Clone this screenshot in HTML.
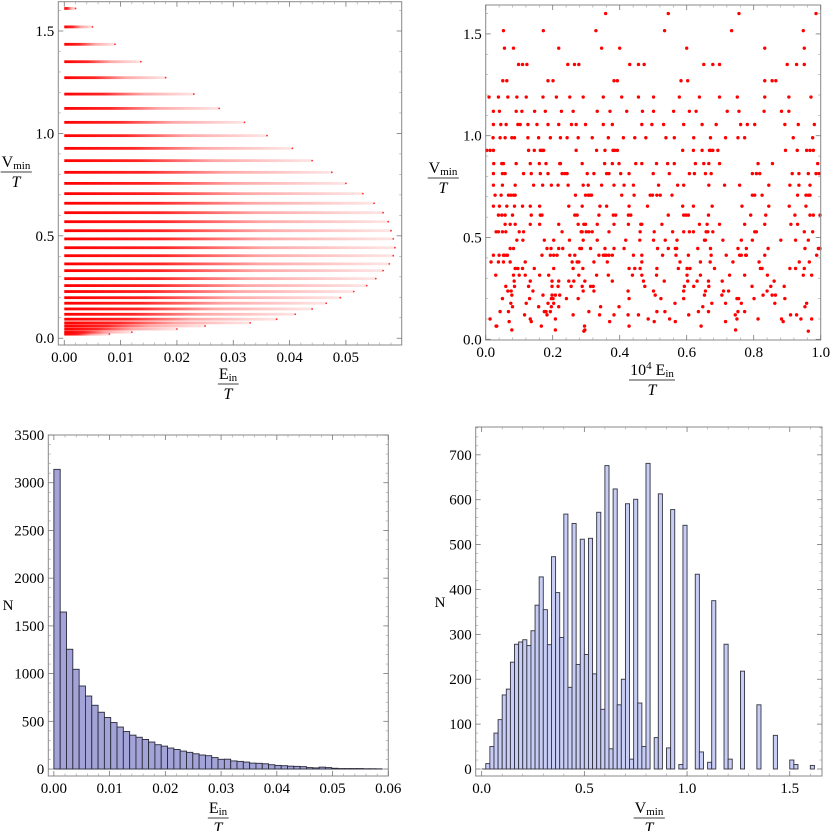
<!DOCTYPE html>
<html><head><meta charset="utf-8"><style>
html,body{margin:0;padding:0;background:#fff;}
svg text{font-family:"Liberation Serif",serif;fill:#000;}
</style></head><body>
<svg id="fig" width="830" height="831" viewBox="0 0 830 831" xmlns="http://www.w3.org/2000/svg">
<defs>
<linearGradient id="fade" x1="0" y1="0" x2="1" y2="0">
<stop offset="0" stop-color="#ff0000" stop-opacity="1"/>
<stop offset="0.3" stop-color="#ff0000" stop-opacity="0.85"/>
<stop offset="0.6" stop-color="#ff0000" stop-opacity="0.35"/>
<stop offset="1" stop-color="#ff0000" stop-opacity="0.1"/>
</linearGradient>
</defs>
<g id="tl"></g>
<g id="tr"></g>
<g id="bl"></g>
<g id="br"></g>
</svg>
<script>
// ---- Top-left: levels of Vmin/T and maximum Ein/T reached on each level
const tlLevels = [1.61,1.52,1.435,1.35,1.272,1.192,1.122,1.054,0.989,0.927,0.867,0.81,0.756,0.706,0.659,0.613,0.569,0.525,0.485,0.442,0.403,0.363,0.330,0.291,0.257,0.228,0.198,0.171,0.143,0.117,0.093,0.075,0.06,0.045,0.03,0.02];
const tlExtent = [0.002,0.005,0.009,0.0136,0.018,0.023,0.0275,0.032,0.036,0.0405,0.044,0.0475,0.050,0.053,0.055,0.0566,0.0575,0.058,0.0584,0.0587,0.0584,0.0577,0.0566,0.0553,0.0537,0.0514,0.049,0.0465,0.044,0.041,0.0377,0.033,0.025,0.02,0.012,0.008];
const tlXTicks = [0,0.01,0.02,0.03,0.04,0.05];
const tlXLabels = ["0.00","0.01","0.02","0.03","0.04","0.05"];
const tlYTicks = [0,0.5,1.0,1.5];
const tlYLabels = ["0.0","0.5","1.0","1.5"];

// ---- Top-right: points per Vmin level, x in thousandths of (10^4 Ein/T)
const trLevels = [1.60,1.516,1.43,1.35,1.27,1.19,1.12,1.055,0.99,0.928,0.863,0.814,0.757,0.708,0.654,0.61,0.565,0.528,0.487,0.446,0.413,0.38,0.348,0.315,0.286,0.26,0.237,0.217,0.2,0.177,0.16,0.136,0.12,0.1,0.087,0.065,0.046,0.04];
const trX = [
[358,545,756,986],
[53,172,329,534,734,948],
[56,83,218,346,400,600,833,951],
[98,110,123,245,265,278,430,456,473,651,678,698,900,928,951],
[51,63,186,201,383,393,583,603,833,855,866],
[10,38,66,93,121,171,211,251,291,351,406,456,501,578,638,698,751,833,905,971],
[23,41,91,108,146,178,226,261,333,371,421,468,501,561,608,628,721,756,831,883,905],
[23,45,61,96,103,126,153,186,218,256,270,298,351,378,466,496,531,591,646,688,761,781,803,893,933,981],
[22,43,58,78,86,126,158,193,223,243,276,318,366,411,445,478,538,563,621,671,716,753,773,918,976],
[3,13,23,128,145,163,168,173,270,331,356,380,385,393,588,620,646,668,671,678,693,895,930,958,968,978],
[24,48,53,91,133,160,180,221,223,288,355,378,398,448,466,510,543,563,626,651,666,698,813,856,991],
[23,50,58,113,136,163,186,228,236,243,303,323,361,368,403,428,500,548,608,623,656,673,796,808,818,915,935,963,986,995],
[23,50,88,143,170,196,216,246,291,306,346,383,413,441,516,573,591,666,713,758,845,908,935,968],
[28,46,68,75,83,88,268,298,306,311,316,406,443,491,498,511,521,556,796,803,825,931,956,963,968],
[23,41,63,86,110,133,161,248,288,341,361,428,483,588,620,676,765,845,906,956],
[38,48,58,80,136,163,168,266,273,338,381,388,426,433,545,591,598,605,665,791,836,923,968,978,998],
[58,73,88,133,161,218,276,293,298,333,383,426,463,466,526,638,661,698,773,833,911,931],
[31,38,50,60,100,113,228,285,288,300,308,318,368,461,503,558,591,608,620,658,663,678,803,808,951,976],
[93,111,175,203,250,291,333,418,460,501,536,571,653,656,708,763,796,881,925,963],
[73,83,183,195,218,230,281,286,313,356,383,413,513,545,566,570,633,671,753,778,843,953,993,998],
[23,40,53,56,63,65,168,193,203,213,251,266,338,351,356,360,368,378,441,466,528,568,605,673,718,758,763,776,778,833,988],
[16,38,53,73,118,258,273,278,323,363,466,580,641,670,738,816,936,966],
[88,96,110,145,203,261,290,428,445,461,511,575,601,610,683,820,825,908,925,951],
[30,83,100,118,161,188,278,331,366,438,466,510,601,641,728,773,841,948,973],
[85,133,198,218,248,263,296,378,471,533,603,631,665,706,861],
[60,86,128,198,216,255,288,313,321,475,593,621,666,795,851,891],
[66,76,141,291,323,425,501,591,656,710,725,840],
[78,171,198,208,221,506,653,705,828,855,865],
[50,131,196,201,241,276,428,523,591,750,755,801,893],
[75,121,186,203,565,675,716,763,863,958],
[80,158,196,218,343,398,648,953],
[43,68,175,180,193,308,511,535,635,665,753,773],
[116,183,261,340,383,425,456,606,745,910,928],
[13,133,208,485,549,750,813,883,941,973],
[70,136,370,503,566,716,888],
[31,33,166,295,428,643],
[78,208,296,746],
[293,963]
];
const trXTicks = [0,0.2,0.4,0.6,0.8,1.0];
const trXLabels = ["0.0","0.2","0.4","0.6","0.8","1.0"];
const trYTicks = [0,0.5,1.0,1.5];
const trYLabels = ["0.0","0.5","1.0","1.5"];

// ---- Bottom-left histogram of Ein/T
const blBinWidth = 0.001133;
const blCounts = [3140,1645,1255,1045,870,765,668,595,540,487,440,393,355,333,310,283,255,240,220,205,188,175,160,147,140,120,102,103,85,80,73,62,60,55,45,38,35,30,28,25,15,12,20,15,8,5,5,5,5,3,3,2];
const blXTicks = [0,0.01,0.02,0.03,0.04,0.05,0.06];
const blXLabels = ["0.00","0.01","0.02","0.03","0.04","0.05","0.06"];
const blYTicks = [0,500,1000,1500,2000,2500,3000,3500];
const blYLabels = ["0","500","1000","1500","2000","2500","3000","3500"];

// ---- Bottom-right histogram of Vmin/T (bins of 0.02 starting at 0)
const brBinWidth = 0.02;
const brCounts = [0,12,50,80,110,165,178,238,278,283,288,275,308,365,428,355,277,473,393,293,568,182,547,233,512,255,514,212,572,133,676,45,624,143,200,591,22,601,147,50,681,0,70,613,0,47,578,0,10,543,0,0,434,38,0,15,375,0,0,278,22,0,0,218,0,0,0,143,0,0,0,75,0,0,0,20,10,0,0,0,8];
const brXTicks = [0,0.5,1.0,1.5];
const brXLabels = ["0.0","0.5","1.0","1.5"];
const brYTicks = [0,100,200,300,400,500,600,700];
const brYLabels = ["0","100","200","300","400","500","600","700"];

const NS = "http://www.w3.org/2000/svg";
function mk(parent, tag, attrs) {
  const e = document.createElementNS(NS, tag);
  for (const k in attrs) e.setAttribute(k, attrs[k]);
  parent.appendChild(e);
  return e;
}
function panel(g, L, R, T, B, x0, x1, y0, y1) {
  const sx = v => L + (v - x0) / (x1 - x0) * (R - L);
  const sy = v => B - (v - y0) / (y1 - y0) * (B - T);
  return {sx, sy, L, R, T, B, g};
}
function frame(p, xt, xl, yt, yl) {
  const g = p.g;
  const fr = mk(g, 'rect', {x:p.L, y:p.T, width:p.R-p.L, height:p.B-p.T, fill:'none', stroke:'#888', 'stroke-width':1});
  
  
  xt.forEach((v, i) => {
    const x = p.sx(v);
    mk(g, 'line', {x1:x, x2:x, y1:p.B, y2:p.B-5, stroke:'#777', 'stroke-width':0.8});
    mk(g, 'line', {x1:x, x2:x, y1:p.T, y2:p.T+5, stroke:'#777', 'stroke-width':0.8});
    const t = mk(g, 'text', {x:x, y:p.B+17, 'font-size':15, 'text-anchor':'middle'});
    t.textContent = xl[i];
    
    
  });
  yt.forEach((v, i) => {
    const y = p.sy(v);
    mk(g, 'line', {x1:p.L, x2:p.L+5, y1:y, y2:y, stroke:'#777', 'stroke-width':0.8});
    mk(g, 'line', {x1:p.R, x2:p.R-5, y1:y, y2:y, stroke:'#777', 'stroke-width':0.8});
    const t = mk(g, 'text', {x:p.L-4, y:y+5, 'font-size':15, 'text-anchor':'end'});
    t.textContent = yl[i];
    
    
  });
  const nx = 5, ny = 5;
  for (let i = 0; i < xt.length; i++) for (let k = 1; k < nx; k++) {
    const step = xt[1]-xt[0];
    const x = p.sx(xt[i] + step*k/nx);
    if (x > p.R || x < p.L) continue;
    mk(g, 'line', {x1:x, x2:x, y1:p.B, y2:p.B-2.5, stroke:'#999', 'stroke-width':0.6});
    mk(g, 'line', {x1:x, x2:x, y1:p.T, y2:p.T+2.5, stroke:'#999', 'stroke-width':0.6});
  }
  for (let i = 0; i < yt.length; i++) for (let k = 1; k < ny; k++) {
    const step = yt[1]-yt[0];
    const y = p.sy(yt[i] + step*k/ny);
    if (y < p.T || y > p.B) continue;
    mk(g, 'line', {x1:p.L, x2:p.L+2.5, y1:y, y2:y, stroke:'#999', 'stroke-width':0.6});
    mk(g, 'line', {x1:p.R, x2:p.R-2.5, y1:y, y2:y, stroke:'#999', 'stroke-width':0.6});
  }
}
function fracLabel(g, cx, ytop, num, sub, name) {
  const grp = mk(g, 'g', {});
  
  
  const t = mk(grp, 'text', {x:cx, y:ytop+13, 'font-size':16, 'text-anchor':'middle'});
  t.innerHTML = num + '<tspan font-size="11" dy="2">' + sub + '</tspan>';
  const bb = t.getBBox();
  mk(grp, 'line', {x1:bb.x-1, x2:bb.x+bb.width+1, y1:ytop+18, y2:ytop+18, stroke:'#000', 'stroke-width':0.8});
  const tt = mk(grp, 'text', {x:cx, y:ytop+33, 'font-size':16, 'text-anchor':'middle', 'font-style':'italic'});
  tt.textContent = 'T';
}
function simpleLabel(g, x, y, s, name) {
  const t = mk(g, 'text', {x:x, y:y, 'font-size':15, 'text-anchor':'middle'});
  t.textContent = s;
  
  
}

// Top-left
(function(){
  const g = document.getElementById('tl');
  const p = panel(g, 58.3, 401.7, 1.7, 345, -0.00106, 0.0599, -0.033, 1.643);
  tlLevels.forEach((v, i) => {
    const y = p.sy(v), x0 = p.sx(0), x1 = p.sx(tlExtent[i]);
    const r = mk(g, 'rect', {x:x0, y:y-1.4, width:Math.max(1,x1-x0), height:2.8, fill:'url(#fade)'});
    
    
    const c = mk(g, 'circle', {cx:x1, cy:y, r:0.9, fill:'#ff3030'});
    
    
  });
  frame(p, tlXTicks, tlXLabels, tlYTicks, tlYLabels);
  fracLabel(g, 16, 154, 'V', 'min', 'y-axis-title');
  fracLabel(g, 228, 366, 'E', 'in', 'x-axis-title');
})();

// Top-right
(function(){
  const g = document.getElementById('tr');
  const p = panel(g, 485.7, 820.7, 5, 340, 0, 1, -0.0034, 1.642);
  trLevels.forEach((v, i) => {
    trX[i].forEach(xv => {
      const c = mk(g, 'circle', {cx:p.sx(xv/1000), cy:p.sy(v), r:1.7, fill:'#ff0000'});
      
      
    });
  });
  frame(p, trXTicks, trXLabels, trYTicks, trYLabels);
  fracLabel(g, 443, 160, 'V', 'min', 'y-axis-title');
  const grp = mk(g, 'g', {});
  
  
  const t = mk(grp, 'text', {x:652, y:375, 'font-size':16, 'text-anchor':'middle'});
  t.innerHTML = '10<tspan font-size="11" dy="-6">4</tspan><tspan dy="6"> E</tspan><tspan font-size="11" dy="2">in</tspan>';
  mk(grp, 'line', {x1:629, x2:675, y1:380, y2:380, stroke:'#000', 'stroke-width':0.8});
  const tt = mk(grp, 'text', {x:652, y:395, 'font-size':16, 'text-anchor':'middle', 'font-style':'italic'});
  tt.textContent = 'T';
})();

// Bottom-left
(function(){
  const g = document.getElementById('bl');
  const p = panel(g, 48.3, 388.3, 435, 776, -0.001, 0.06, -73, 3500);
  blCounts.forEach((c, i) => {
    const x0 = p.sx(i*blBinWidth), x1 = p.sx((i+1)*blBinWidth);
    const r = mk(g, 'rect', {x:x0, y:p.sy(c), width:x1-x0, height:p.sy(0)-p.sy(c), fill:'#a3a3d8', stroke:'#2a2a3a', 'stroke-width':0.9});
    
    
  });
  frame(p, blXTicks, blXLabels, blYTicks, blYLabels);
  simpleLabel(g, 8, 610, 'N', 'y-axis-title');
  fracLabel(g, 218, 800, 'E', 'in', 'x-axis-title');
})();

// Bottom-right
(function(){
  const g = document.getElementById('br');
  const p = panel(g, 475.7, 822, 427, 776, -0.029, 1.657, -15.6, 762);
  brCounts.forEach((c, i) => {
    if (c <= 0) return;
    const x0 = p.sx(i*brBinWidth), x1 = p.sx((i+1)*brBinWidth);
    const r = mk(g, 'rect', {x:x0, y:p.sy(c), width:x1-x0, height:p.sy(0)-p.sy(c), fill:'#c8cdf6', stroke:'#33333f', 'stroke-width':0.9});
    
    
  });
  mk(g, 'line', {x1:p.sx(0), x2:p.sx(0.02), y1:p.sy(0), y2:p.sy(0), stroke:'#33333f', 'stroke-width':0.9});
  frame(p, brXTicks, brXLabels, brYTicks, brYLabels);
  simpleLabel(g, 440, 607, 'N', 'y-axis-title');
  fracLabel(g, 649, 800, 'V', 'min', 'x-axis-title');
})();
</script>
</body></html>
